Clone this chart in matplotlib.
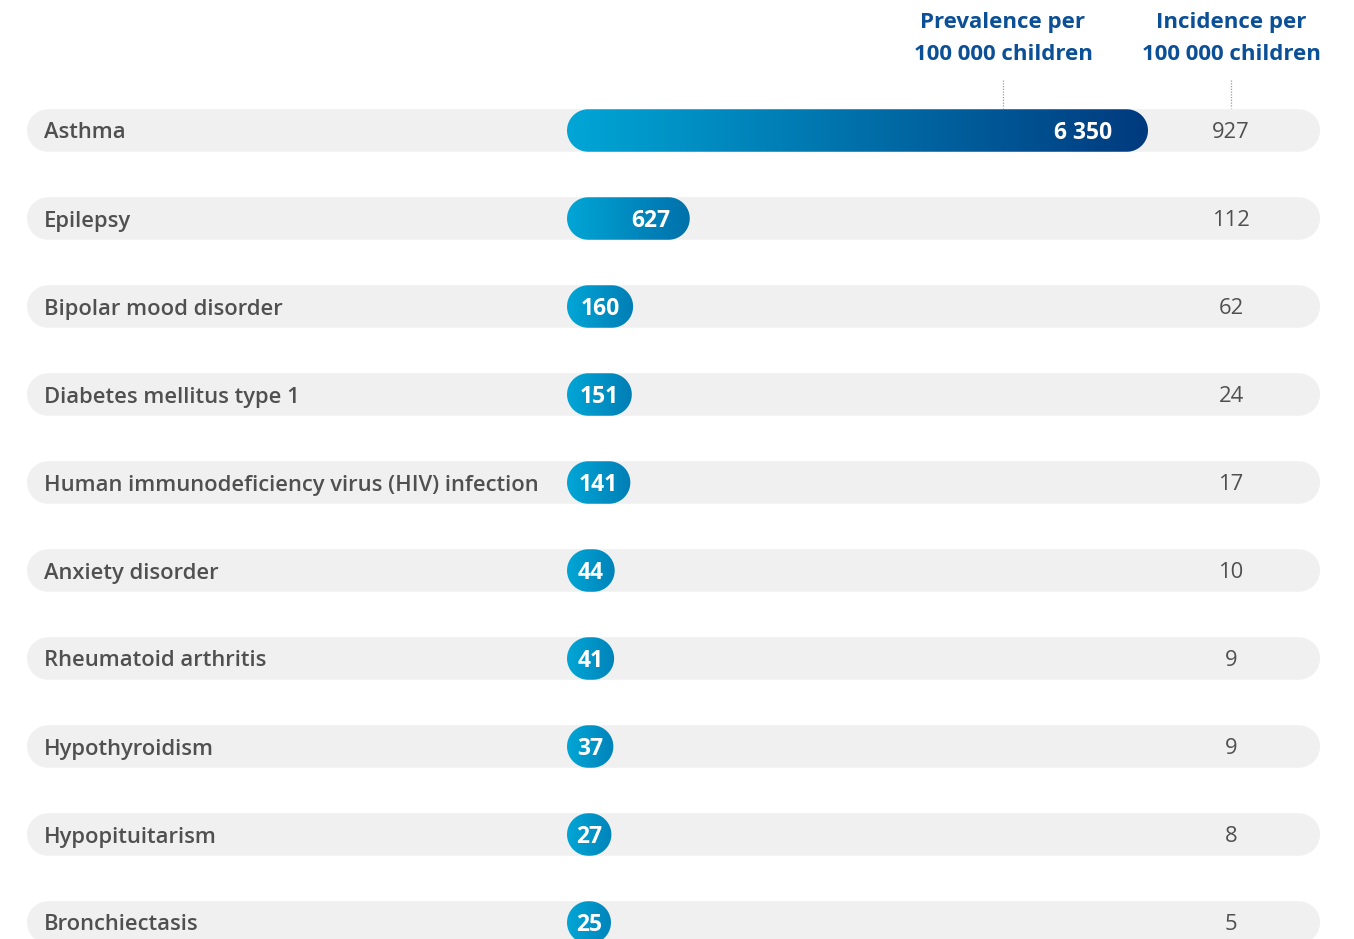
import matplotlib
matplotlib.use('Agg')
import matplotlib.pyplot as plt
import numpy as np
from matplotlib.patches import Polygon
from matplotlib.colors import to_rgb

conditions = ['Asthma', 'Epilepsy', 'Bipolar mood disorder', 'Diabetes mellitus type 1',
              'Human immunodeficiency virus (HIV) infection', 'Anxiety disorder',
              'Rheumatoid arthritis', 'Hypothyroidism', 'Hypopituitarism', 'Bronchiectasis']
prevalence = [6350, 627, 160, 151, 141, 44, 41, 37, 27, 25]
incidence = [927, 112, 62, 24, 17, 10, 9, 9, 8, 5]

prev_labels = ['{:,}'.format(v).replace(',', ' ') for v in prevalence]

W, H = 1354, 939
fig = plt.figure(figsize=(W / 100, H / 100), dpi=100)
ax = fig.add_axes([0, 0, 1, 1])
ax.set_xlim(0, W)
ax.set_ylim(H, 0)
ax.axis('off')

font = 'Open Sans'
grey_text = '#505050'
head_col = '#0B4F96'
cyan = np.array(to_rgb('#00A6D6'))
navy = np.array(to_rgb('#003A7E'))

row0 = 130.5
step = 88.0
row_h = 42.5
bg_left, bg_right = 27, 1320
bar_x0 = 567
inc_x = 1231
prev_x = 1003
ty = 2.5  # text nudge to sit on the row centre

# bar length: power scale with a minimum so the label fits
max_len = 581
min_len = 37.5
k = (max_len - min_len) / max(prevalence) ** 0.8


def bar_len(v):
    return min_len + k * v ** 0.8


def stadium(x0, x1, yc, h, **kw):
    r = h / 2
    a = np.linspace(np.pi / 2, 3 * np.pi / 2, 40)
    left = np.c_[x0 + r + r * np.cos(a), yc - r * np.sin(a)]
    b = np.linspace(-np.pi / 2, np.pi / 2, 40)
    right = np.c_[x1 - r + r * np.cos(b), yc - r * np.sin(b)]
    return Polygon(np.vstack([left, right]), closed=True, **kw)


# header
for x, l1 in [(prev_x, 'Prevalence per'), (inc_x, 'Incidence per')]:
    ax.text(x, 20 + ty, l1, ha='center', va='center', fontsize=16,
            fontweight='bold', color=head_col, family=font)
    ax.text(x, 52 + ty, '100 000 children', ha='center', va='center', fontsize=16,
            fontweight='bold', color=head_col, family=font)
    ax.plot([x, x], [80, 108], ls=(0, (1, 1.2)), lw=0.9, color='#9a9a9a')

for i, (name, p, inc, lab) in enumerate(zip(conditions, prevalence, incidence, prev_labels)):
    yc = row0 + i * step
    ax.add_patch(stadium(bg_left, bg_right, yc, row_h,
                         facecolor='#f0f0f0', edgecolor='none', zorder=1))

    ax.text(44, yc + ty, name, ha='left', va='center', fontsize=15.8, fontweight='semibold',
            color=grey_text, family=font, zorder=5)
    ax.text(inc_x, yc + ty, str(inc), ha='center', va='center', fontsize=15.8,
            color=grey_text, family=font, zorder=5)

    blen = bar_len(p)
    x1 = bar_x0 + blen
    pill = stadium(bar_x0, x1, yc, row_h, facecolor='none', edgecolor='none', zorder=2)
    ax.add_patch(pill)
    t_end = min(1.0, (blen / max_len) ** 0.45)
    frac = np.linspace(0, t_end, 256)[:, None]
    grad = cyan[None, :] * (1 - frac) + navy[None, :] * frac
    im = ax.imshow(grad[None, :, :], extent=[bar_x0, x1, yc + row_h / 2, yc - row_h / 2],
                   aspect='auto', zorder=3, interpolation='bilinear')
    im.set_clip_path(pill)

    if blen > 100:
        pad = 36 if blen > 300 else 19
        ax.text(x1 - pad, yc + ty, lab, ha='right', va='center', fontsize=16.5,
                fontweight='bold', color='white', family=font, zorder=6)
    else:
        ax.text(bar_x0 + blen / 2, yc + ty, lab, ha='center', va='center', fontsize=16.5,
                fontweight='bold', color='white', family=font, zorder=6)

ax.set_xlim(0, W)
ax.set_ylim(H, 0)
fig.savefig('out.png', dpi=100)
